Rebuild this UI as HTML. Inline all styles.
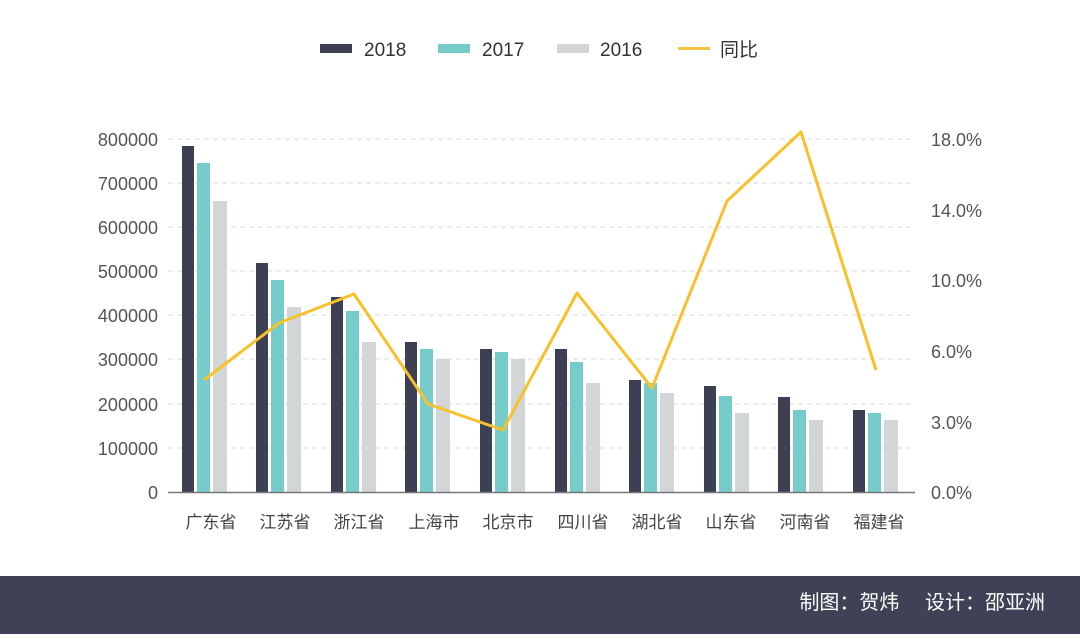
<!DOCTYPE html>
<html><head><meta charset="utf-8"><style>
body{margin:0;background:#fff;}
svg text{font-family:"Liberation Sans","Noto Sans CJK SC",sans-serif;}
</style></head><body>
<svg width="1080" height="634" xmlns="http://www.w3.org/2000/svg">
<rect width="1080" height="634" fill="#fff"/>
<g font-size="19" fill="#333">
<rect x="320" y="44" width="32" height="9" fill="#3d3f52"/><text x="364" y="56">2018</text>
<rect x="438" y="44" width="32" height="9" fill="#76cccb"/><text x="482" y="56">2017</text>
<rect x="557" y="44" width="32" height="9" fill="#d3d6d6"/><text x="600" y="56">2016</text>
<rect x="678" y="47" width="32" height="3" fill="#f7c343"/><text x="720" y="56">同比</text>
</g>
<g stroke="#d8d8d8" stroke-dasharray="5,4" stroke-width="1">
<line x1="168" y1="139" x2="915" y2="139"/><line x1="168" y1="183" x2="915" y2="183"/>
<line x1="168" y1="227" x2="915" y2="227"/><line x1="168" y1="271" x2="915" y2="271"/>
<line x1="168" y1="315" x2="915" y2="315"/><line x1="168" y1="359" x2="915" y2="359"/>
<line x1="168" y1="404" x2="915" y2="404"/><line x1="168" y1="448" x2="915" y2="448"/>
</g>
<g font-size="18" fill="#555" text-anchor="end">
<text x="158" y="146">800000</text><text x="158" y="190">700000</text><text x="158" y="234">600000</text>
<text x="158" y="278">500000</text><text x="158" y="322">400000</text><text x="158" y="366">300000</text>
<text x="158" y="411">200000</text><text x="158" y="455">100000</text><text x="158" y="499">0</text>
</g>
<g font-size="18" fill="#555">
<text x="931" y="146">18.0%</text><text x="931" y="217">14.0%</text><text x="931" y="287">10.0%</text>
<text x="931" y="358">6.0%</text><text x="931" y="429">3.0%</text><text x="931" y="499">0.0%</text>
</g>
<g id="bars">
<rect x="182" y="146" width="12" height="346" fill="#3d3f52"/><rect x="197" y="163" width="13" height="329" fill="#76cccb"/><rect x="213" y="201" width="14" height="291" fill="#d3d6d6"/>
<rect x="256" y="263" width="12" height="229" fill="#3d3f52"/><rect x="271" y="280" width="13" height="212" fill="#76cccb"/><rect x="287" y="307" width="14" height="185" fill="#d3d6d6"/>
<rect x="331" y="297" width="12" height="195" fill="#3d3f52"/><rect x="346" y="311" width="13" height="181" fill="#76cccb"/><rect x="362" y="342" width="14" height="150" fill="#d3d6d6"/>
<rect x="405" y="342" width="12" height="150" fill="#3d3f52"/><rect x="420" y="349" width="13" height="143" fill="#76cccb"/><rect x="436" y="359" width="14" height="133" fill="#d3d6d6"/>
<rect x="480" y="349" width="12" height="143" fill="#3d3f52"/><rect x="495" y="352" width="13" height="140" fill="#76cccb"/><rect x="511" y="359" width="14" height="133" fill="#d3d6d6"/>
<rect x="555" y="349" width="12" height="143" fill="#3d3f52"/><rect x="570" y="362" width="13" height="130" fill="#76cccb"/><rect x="586" y="383" width="14" height="109" fill="#d3d6d6"/>
<rect x="629" y="380" width="12" height="112" fill="#3d3f52"/><rect x="644" y="383" width="13" height="109" fill="#76cccb"/><rect x="660" y="393" width="14" height="99" fill="#d3d6d6"/>
<rect x="704" y="386" width="12" height="106" fill="#3d3f52"/><rect x="719" y="396" width="13" height="96" fill="#76cccb"/><rect x="735" y="413" width="14" height="79" fill="#d3d6d6"/>
<rect x="778" y="397" width="12" height="95" fill="#3d3f52"/><rect x="793" y="410" width="13" height="82" fill="#76cccb"/><rect x="809" y="420" width="14" height="72" fill="#d3d6d6"/>
<rect x="853" y="410" width="12" height="82" fill="#3d3f52"/><rect x="868" y="413" width="13" height="79" fill="#76cccb"/><rect x="884" y="420" width="14" height="72" fill="#d3d6d6"/>
</g>
<line x1="168" y1="492.5" x2="915" y2="492.5" stroke="#777" stroke-width="1.5"/>
<polyline points="204,380 279,323 354,294 428,404 503,430 577,293 652,388 727,201 801,132 876,370" fill="none" stroke="#f6c12b" stroke-width="3" stroke-linejoin="round"/>
<g font-size="17" fill="#444" text-anchor="middle">
<text x="211" y="528">广东省</text><text x="285" y="528">江苏省</text><text x="359" y="528">浙江省</text>
<text x="434" y="528">上海市</text><text x="508" y="528">北京市</text><text x="583" y="528">四川省</text>
<text x="657" y="528">湖北省</text><text x="731" y="528">山东省</text><text x="805" y="528">河南省</text><text x="879" y="528">福建省</text>
</g>
<rect x="0" y="576" width="1080" height="58" fill="#3f4156"/>
<text x="1045" y="609" font-size="20" fill="#fff" text-anchor="end">制图：贺炜　 设计：邵亚洲</text>
</svg>
</body></html>
